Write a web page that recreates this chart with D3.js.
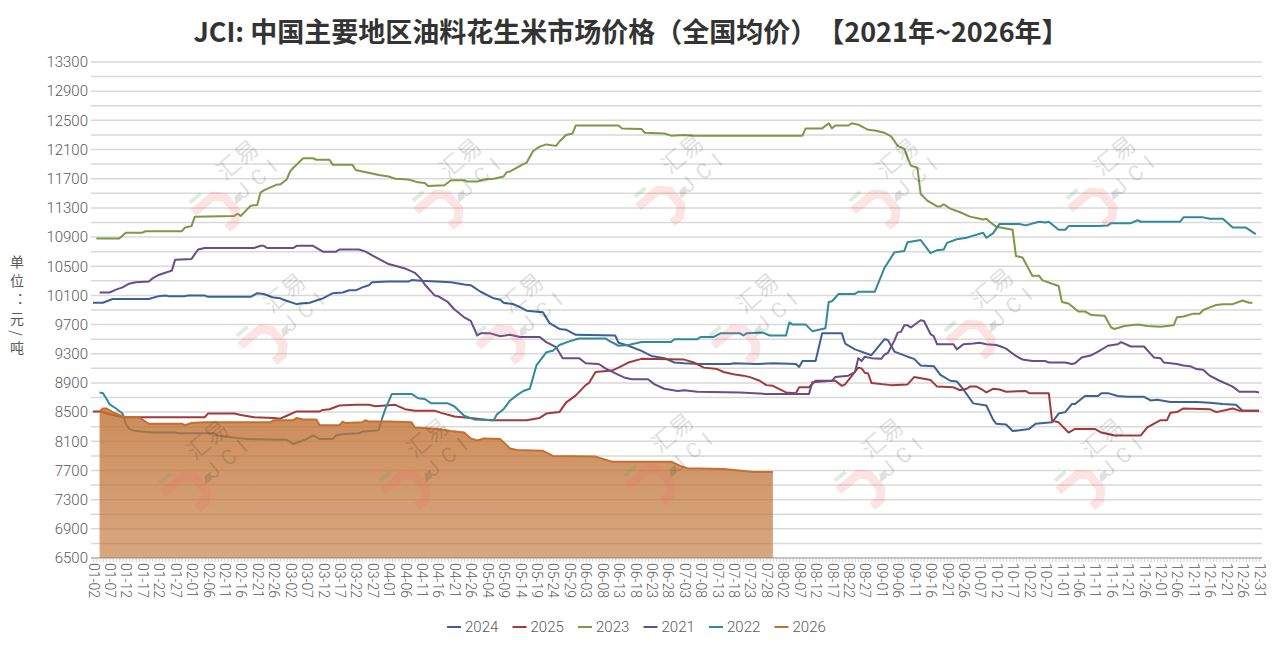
<!DOCTYPE html>
<html>
<head>
<meta charset="utf-8">
<script src="https://cdn.jsdelivr.net/npm/d3@7"></script>
<style>
  body { margin: 0; background: #fff; }
  text { font-family: "Noto Sans CJK SC", "Roboto", sans-serif; }
  .title { text-spacing-trim: space-all; }
</style>
</head>
<body>
<svg id="canvas" width="1276" height="651"></svg>
<script>
var canvas_width = 1276, canvas_height = 651;

// ---- data ----
var title = "JCI: 中国主要地区油料花生米市场价格（全国均价）【2021年~2026年】";
var yTitle = "单位：元/吨";
var yDomain = [6500, 13300];
var yLabelStep = 400, yGridStep = 200;
// trading days on the axis (a leap year calendar, holiday gaps removed)
var axisYear = 2024;
var holidayGaps = ["05-01", "05-02", "05-03", "10-01", "10-02", "10-03", "10-04", "10-05", "10-06"];
var labelEvery = 5;

var seriesNames = ["2024", "2025", "2023", "2021", "2022", "2026"];
var seriesColors = ["#3b6196", "#a23a3a", "#7c9a45", "#6a4c8b", "#2f8a9d", "#c47030"];

var s2024 = [["01-02",10000],["01-05",10000],["01-08",10050],["01-19",10050],["01-22",10090],["01-24",10100],["01-25",10090],["01-30",10090],["01-31",10100],["02-05",10100],["02-06",10080],["02-19",10080],["02-21",10130],["02-23",10120],["02-26",10070],["02-28",10060],["02-29",10040],["03-04",9980],["03-05",9990],["03-08",10000],["03-10",10030],["03-12",10060],["03-15",10130],["03-18",10140],["03-20",10170],["03-22",10170],["03-24",10210],["03-26",10240],["03-27",10280],["04-01",10290],["04-07",10290],["04-08",10310],["04-11",10300],["04-20",10280],["04-24",10250],["04-26",10240],["04-29",10150],["05-06",10060],["05-08",10040],["05-09",10000],["05-12",9980],["05-14",9940],["05-16",9890],["05-21",9870],["05-23",9720],["05-26",9640],["05-28",9630],["05-31",9560],["06-12",9550],["06-13",9450],["06-16",9410],["06-20",9340],["06-23",9270],["06-27",9240],["06-30",9180],["07-03",9170],["07-08",9160],["07-17",9160],["07-18",9170],["07-25",9160],["07-30",9170],["08-06",9160],["08-07",9120],["08-08",9200],["08-12",9200],["08-14",9580],["08-20",9580],["08-21",9440],["08-24",9360],["08-29",9280],["08-31",9390],["09-02",9500],["09-03",9490],["09-05",9330],["09-09",9260],["09-11",9230],["09-13",9140],["09-17",9130],["09-19",9010],["09-22",8930],["09-24",8920],["09-26",8810],["09-29",8620],["10-09",8590],["10-11",8400],["10-12",8340],["10-15",8330],["10-17",8240],["10-22",8270],["10-24",8340],["10-29",8360],["10-31",8480],["11-02",8500],["11-04",8610],["11-05",8610],["11-08",8720],["11-12",8720],["11-13",8760],["11-15",8760],["11-18",8720],["11-21",8710],["11-26",8710],["11-28",8660],["11-30",8670],["12-04",8640],["12-12",8640],["12-16",8630],["12-20",8610],["12-24",8600],["12-26",8520],["12-31",8520]];

var s2025 = [["01-02",8510],["01-04",8510],["01-07",8470],["01-11",8430],["02-05",8430],["02-06",8480],["02-14",8480],["02-16",8460],["02-20",8430],["02-26",8420],["02-28",8410],["03-01",8450],["03-04",8510],["03-11",8510],["03-12",8530],["03-14",8540],["03-17",8590],["03-22",8600],["03-26",8600],["03-28",8580],["03-31",8590],["04-03",8600],["04-06",8540],["04-09",8520],["04-15",8520],["04-17",8490],["04-21",8440],["04-26",8420],["05-05",8390],["05-16",8390],["05-20",8420],["05-22",8480],["05-26",8500],["05-28",8630],["05-31",8730],["06-03",8870],["06-04",8900],["06-06",9050],["06-11",9070],["06-13",9110],["06-16",9180],["06-20",9230],["07-03",9220],["07-06",9180],["07-09",9110],["07-13",9090],["07-15",9050],["07-18",9020],["07-21",9000],["07-23",8980],["07-26",8930],["07-28",8870],["07-30",8860],["08-03",8770],["08-06",8760],["08-07",8840],["08-10",8840],["08-12",8930],["08-18",8930],["08-20",8860],["08-21",8880],["08-22",8940],["08-25",9110],["08-26",9100],["08-27",9040],["08-28",9030],["08-29",8900],["09-04",8870],["09-09",8880],["09-11",8980],["09-16",8940],["09-18",8850],["09-23",8840],["09-25",8800],["09-27",8820],["09-28",8850],["09-30",8850],["10-08",8800],["10-09",8770],["10-11",8820],["10-13",8810],["10-15",8780],["10-21",8790],["10-22",8760],["10-28",8760],["10-29",8380],["10-31",8360],["11-03",8220],["11-05",8270],["11-11",8270],["11-13",8220],["11-17",8180],["11-25",8180],["11-27",8290],["12-01",8390],["12-03",8390],["12-04",8490],["12-06",8500],["12-08",8550],["12-16",8540],["12-18",8500],["12-23",8550],["12-25",8520],["12-31",8520]];

var s2023 = [["01-03",10880],["01-10",10880],["01-12",10960],["01-17",10960],["01-18",10980],["01-29",10980],["01-30",11030],["02-01",11050],["02-02",11180],["02-14",11190],["02-15",11220],["02-16",11190],["02-19",11330],["02-21",11340],["02-22",11510],["02-23",11540],["02-25",11580],["02-27",11620],["02-28",11620],["03-01",11690],["03-02",11800],["03-03",11850],["03-06",11980],["03-09",11980],["03-10",11960],["03-14",11960],["03-15",11890],["03-21",11890],["03-22",11820],["03-24",11800],["03-27",11770],["03-29",11750],["04-01",11730],["04-03",11700],["04-07",11690],["04-10",11650],["04-12",11640],["04-13",11600],["04-18",11610],["04-20",11680],["04-24",11680],["04-25",11660],["04-28",11660],["04-30",11690],["05-06",11700],["05-09",11730],["05-10",11790],["05-11",11800],["05-15",11900],["05-16",11920],["05-18",12080],["05-20",12140],["05-22",12170],["05-25",12150],["05-26",12210],["05-28",12300],["05-30",12320],["05-31",12430],["06-13",12430],["06-14",12390],["06-20",12380],["06-21",12330],["06-27",12320],["06-29",12290],["07-03",12300],["07-06",12290],["08-08",12290],["08-09",12390],["08-14",12390],["08-16",12460],["08-17",12390],["08-18",12430],["08-22",12430],["08-23",12460],["08-25",12440],["08-28",12370],["08-30",12360],["09-02",12330],["09-04",12280],["09-06",12150],["09-08",12110],["09-10",11880],["09-12",11850],["09-13",11490],["09-15",11400],["09-18",11320],["09-19",11320],["09-20",11350],["09-22",11290],["09-25",11240],["09-28",11180],["10-07",11150],["10-08",11140],["10-09",11150],["10-10",11110],["10-12",11040],["10-17",11000],["10-18",10640],["10-20",10620],["10-23",10370],["10-25",10370],["10-26",10310],["10-29",10260],["10-31",10230],["11-01",10010],["11-03",9990],["11-06",9880],["11-08",9880],["11-10",9830],["11-14",9820],["11-16",9660],["11-17",9640],["11-20",9680],["11-24",9700],["11-27",9680],["12-01",9670],["12-05",9690],["12-06",9800],["12-08",9810],["12-11",9850],["12-13",9850],["12-14",9900],["12-18",9970],["12-20",9980],["12-23",9980],["12-26",10030],["12-28",10000],["12-29",10000]];

var s2021 = [["01-04",10140],["01-07",10140],["01-09",10180],["01-11",10210],["01-13",10260],["01-15",10280],["01-19",10290],["01-20",10330],["01-22",10380],["01-24",10410],["01-26",10440],["01-27",10590],["02-01",10600],["02-03",10730],["02-05",10750],["02-20",10750],["02-22",10780],["02-23",10780],["02-24",10750],["03-03",10750],["03-04",10780],["03-09",10780],["03-12",10700],["03-16",10700],["03-17",10730],["03-23",10730],["03-25",10700],["03-27",10650],["03-29",10600],["04-01",10530],["04-06",10470],["04-09",10410],["04-11",10320],["04-12",10250],["04-15",10100],["04-16",10090],["04-19",10010],["04-21",9910],["04-24",9800],["04-26",9750],["04-28",9550],["04-29",9580],["05-05",9580],["05-08",9540],["05-11",9560],["05-14",9530],["05-20",9530],["05-22",9460],["05-25",9390],["05-27",9240],["06-01",9240],["06-03",9170],["06-07",9160],["06-09",9100],["06-13",9010],["06-15",8970],["06-17",8950],["06-22",8950],["06-24",8880],["06-27",8820],["07-01",8790],["07-03",8800],["07-07",8780],["07-20",8770],["07-28",8750],["08-10",8750],["08-11",8910],["08-17",8930],["08-18",8980],["08-22",9000],["08-24",9050],["08-25",9240],["08-26",9200],["08-27",9260],["08-29",9240],["09-01",9230],["09-02",9290],["09-03",9310],["09-05",9480],["09-06",9590],["09-07",9600],["09-08",9690],["09-09",9690],["09-10",9660],["09-13",9760],["09-14",9750],["09-16",9570],["09-17",9540],["09-18",9430],["09-23",9430],["09-24",9360],["09-26",9430],["09-29",9440],["10-07",9450],["10-09",9430],["10-12",9420],["10-14",9390],["10-15",9370],["10-18",9270],["10-20",9220],["10-23",9200],["10-27",9200],["10-28",9180],["11-02",9180],["11-04",9160],["11-05",9170],["11-07",9250],["11-10",9280],["11-12",9330],["11-15",9410],["11-18",9430],["11-19",9460],["11-22",9400],["11-26",9400],["11-29",9250],["12-01",9240],["12-02",9180],["12-06",9160],["12-08",9140],["12-10",9130],["12-12",9090],["12-14",9080],["12-16",9000],["12-19",8930],["12-22",8870],["12-23",8850],["12-25",8780],["12-30",8780],["12-31",8770]];

var s2022 = [["01-04",8770],["01-05",8760],["01-06",8690],["01-07",8610],["01-09",8550],["01-11",8480],["01-12",8340],["01-13",8270],["01-15",8240],["01-20",8220],["01-27",8220],["01-28",8210],["02-08",8210],["02-09",8180],["02-14",8150],["02-18",8130],["03-01",8120],["03-03",8060],["03-04",8080],["03-07",8130],["03-09",8180],["03-11",8130],["03-15",8130],["03-16",8180],["03-18",8200],["03-23",8210],["03-24",8230],["03-29",8250],["03-30",8410],["03-31",8540],["04-02",8750],["04-08",8750],["04-10",8690],["04-12",8680],["04-14",8620],["04-19",8620],["04-21",8580],["04-24",8450],["04-27",8400],["05-06",8390],["05-07",8470],["05-09",8540],["05-11",8660],["05-13",8730],["05-15",8790],["05-17",8820],["05-19",9140],["05-22",9320],["05-24",9340],["05-26",9420],["05-29",9470],["06-01",9510],["06-09",9510],["06-10",9480],["06-13",9410],["06-16",9420],["06-20",9460],["06-29",9460],["06-30",9500],["07-07",9500],["07-08",9530],["07-12",9530],["07-14",9580],["07-20",9580],["07-21",9550],["07-22",9580],["07-27",9590],["07-29",9550],["08-03",9550],["08-04",9730],["08-05",9700],["08-09",9700],["08-11",9610],["08-15",9650],["08-16",10010],["08-17",10020],["08-19",10120],["08-24",10120],["08-25",10150],["08-30",10150],["09-02",10480],["09-05",10690],["09-08",10710],["09-09",10830],["09-13",10860],["09-16",10680],["09-18",10720],["09-20",10730],["09-21",10820],["09-24",10870],["09-27",10890],["09-29",10920],["10-08",10960],["10-09",10890],["10-11",10950],["10-13",11080],["10-19",11080],["10-21",11060],["10-25",11110],["10-27",11100],["10-28",11110],["10-31",11000],["11-02",11000],["11-03",11050],["11-12",11050],["11-15",11060],["11-16",11090],["11-22",11090],["11-24",11130],["11-25",11110],["12-07",11110],["12-08",11170],["12-14",11170],["12-16",11150],["12-20",11150],["12-23",11030],["12-27",11030],["12-30",10940]];

var s2026 = [["01-04",8510],["01-05",8550],["01-06",8550],["01-08",8500],["01-10",8460],["01-12",8430],["01-16",8430],["01-19",8340],["01-29",8340],["01-30",8320],["02-01",8350],["02-05",8360],["02-25",8360],["02-26",8390],["03-03",8390],["03-04",8420],["03-06",8400],["03-10",8400],["03-11",8320],["03-17",8320],["03-18",8370],["03-19",8350],["03-24",8360],["03-25",8390],["03-26",8370],["04-01",8370],["04-08",8360],["04-09",8290],["04-16",8270],["04-20",8240],["04-24",8220],["04-26",8140],["04-28",8110],["04-30",8140],["05-08",8130],["05-11",8000],["05-13",7980],["05-21",7970],["05-24",7900],["06-06",7890],["06-11",7820],["06-29",7820],["07-01",7780],["07-02",7760],["07-04",7730],["07-15",7720],["07-24",7680],["07-30",7680]];

var seriesData = [s2024, s2025, s2023, s2021, s2022, s2026];

// watermark centres [x, y] in pixels of the picture
var watermarks = [[245,172],[468,170],[690,166],[905,170],[1122,168],
                  [292,305],[530,305],[765,305],[1000,300],
                  [215,452],[435,450],[680,445],[890,450],[1110,450]];

// small helpers so attributes/styles can be set from an object
d3.selection.prototype.attrs = function(o){ for (var k in o) this.attr(k, o[k]); return this; };
d3.selection.prototype.styles = function(o){ for (var k in o) this.style(k, o[k]); return this; };

// ---- axis categories ----
var fmt = d3.timeFormat("%m-%d");
var categories = d3.timeDay.range(new Date(axisYear, 0, 2), new Date(axisYear + 1, 0, 1))
  .map(fmt).filter(function(d){ return holidayGaps.indexOf(d) < 0; });

// ---- chart ----
var svg = d3.select('#canvas');
var plot = { left: 91, right: 1262, top: 62, bottom: 558 };

var x = d3.scalePoint().domain(categories).range([93, 1259]);
var y = d3.scaleLinear().domain(yDomain).range([plot.bottom, plot.top]);

// title
svg.append('text').attrs({ x: 631, y: 42, 'text-anchor': 'middle', 'class': 'title' })
  .styles({ 'font-size': '27px', 'font-weight': 'bold', fill: '#333' })
  .text(title);

// gridlines
var gridVals = d3.range(yDomain[0], yDomain[1] + 1, yGridStep);
svg.append('g').selectAll('line').data(gridVals).enter().append('line')
  .attrs({ x1: plot.left, x2: plot.right, y1: function(d){ return y(d); }, y2: function(d){ return y(d); } })
  .styles({ stroke: function(d){ return d === yDomain[0] ? '#bfbfbf' : '#d9d9d9'; }, 'stroke-width': 1.5 });

// y axis
var yAxis = svg.append('g').attrs({ transform: 'translate(' + plot.left + ',0)' })
  .call(d3.axisLeft(y).tickValues(d3.range(yDomain[0], yDomain[1] + 1, yLabelStep))
    .tickFormat(d3.format('d')).tickSize(0).tickPadding(3));
yAxis.select('.domain').remove();
yAxis.selectAll('text').styles({ 'font-family': 'Roboto', 'font-weight': 300, 'font-size': '15px', fill: '#595959' });

// y title (vertical)
svg.append('text').attrs({ x: 17, y: 307, 'text-anchor': 'middle', 'writing-mode': 'tb' })
  .styles({ 'font-size': '14px', fill: '#595959', 'letter-spacing': '5px' })
  .text(yTitle);

// x axis
var xAxis = svg.append('g').attrs({ transform: 'translate(0,' + plot.bottom + ')' })
  .call(d3.axisBottom(x).tickSize(4).tickFormat(function(d, i){ return i % labelEvery === 0 ? d : ''; }));
xAxis.select('.domain').attrs({ d: 'M' + plot.left + ',0H' + plot.right }).styles({ stroke: '#bfbfbf', 'stroke-width': 1.5 });
xAxis.selectAll('.tick line').styles({ stroke: '#c8c8c8', 'stroke-width': 0.8 });
xAxis.selectAll('.tick text')
  .attrs({ transform: 'rotate(90)', x: 5, y: 0, dy: '0.35em', 'text-anchor': 'start' })
  .styles({ 'font-family': 'Roboto', 'font-weight': 300, 'font-size': '14px', fill: '#595959' });

// lines
var lineGen = d3.line().x(function(d){ return x(d[0]); }).y(function(d){ return y(d[1]); });
var areaGen = d3.area().x(function(d){ return x(d[0]); }).y0(y(yDomain[0])).y1(function(d){ return y(d[1]); });

var defs = svg.append('defs');
var grad = defs.append('linearGradient').attrs({ id: 'fill2026', x1: 0, y1: 0, x2: 0, y2: 1 });
grad.append('stop').attrs({ offset: '0%', 'stop-color': '#c07032', 'stop-opacity': 0.8 });
grad.append('stop').attrs({ offset: '100%', 'stop-color': '#c07032', 'stop-opacity': 0.62 });

var lines = svg.append('g');
seriesData.forEach(function(data, i){
  if (seriesNames[i] === '2026')
    lines.append('path').attrs({ d: areaGen(data), fill: 'url(#fill2026)' });
  lines.append('path').attrs({ d: lineGen(data) })
    .styles({ fill: 'none', stroke: seriesColors[i], 'stroke-width': 2, 'stroke-linejoin': 'round' });
});

// watermarks
var wm = svg.append('g').styles({ 'pointer-events': 'none' });
watermarks.forEach(function(p){
  var g = wm.append('g').attrs({ transform: 'translate(' + p[0] + ',' + p[1] + ') rotate(-40)' });
  g.append('path').attrs({ d: 'M-66,-2H-40L-32,6V24L-40,32H-50' })
    .styles({ fill: 'none', stroke: '#f36b6b', 'stroke-width': 9, opacity: 0.18 });
  g.append('rect').attrs({ x: -62, y: -14, width: 14, height: 4 }).styles({ fill: '#5aa55a', opacity: 0.2 });
  g.append('text').attrs({ x: 2, y: -6, 'text-anchor': 'middle' })
    .styles({ 'font-size': '23px', fill: '#000', opacity: 0.12 }).text('汇易');
  g.append('text').attrs({ x: 8, y: 20, 'text-anchor': 'middle' })
    .styles({ 'font-size': '21px', 'font-family': 'Roboto', fill: '#000', opacity: 0.12, 'letter-spacing': '8px' }).text('JCI');
  g.append('path').attrs({ d: 'M-24,12h8l-4,7h-8z' }).styles({ fill: '#000', opacity: 0.12 });
});

// legend
var legend = svg.append('g').attrs({ transform: 'translate(447,627)' });
seriesNames.forEach(function(n, i){
  var item = legend.append('g').attrs({ transform: 'translate(' + (i * 65.5) + ',0)' });
  item.append('line').attrs({ x1: 0, x2: 14, y1: 0, y2: 0 }).styles({ stroke: seriesColors[i], 'stroke-width': 2 });
  item.append('text').attrs({ x: 18, y: 0, dy: '0.35em' })
    .styles({ 'font-family': 'Roboto', 'font-weight': 300, 'font-size': '15px', fill: '#595959' }).text(n);
});
</script>
</body>
</html>
